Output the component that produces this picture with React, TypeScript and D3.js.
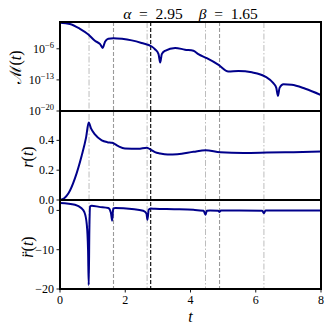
import React, { useEffect, useRef } from "react";
import * as d3 from "d3";

// M(t), log scale
const tM = [0, 0.3, 0.6, 0.87, 1.07, 1.23, 1.31, 1.38, 1.48, 1.64, 1.9, 2.2, 2.5, 2.81, 2.91, 3.02, 3.07, 3.12, 3.22, 3.53, 3.83, 4.09, 4.24, 4.5, 4.86, 5.16, 5.47, 5.88, 6.29, 6.54, 6.63, 6.68, 6.73, 6.85, 7.1, 7.52, 8.0];
const mValues = [0.71, 0.38, 0.035, 1.6e-3, 6.3e-5, 1.1e-5, 1.6e-6, 4.0e-5, 1.8e-4, 2.5e-4, 1.8e-4, 7.9e-5, 2.0e-5, 3.2e-6, 7.9e-7, 6.3e-8, 7.9e-10, 6.3e-8, 3.5e-7, 1.6e-6, 6.3e-7, 3.5e-7, 6.3e-8, 7.9e-9, 2.5e-10, 7.9e-12, 1.0e-11, 5.0e-12, 5.6e-13, 1.8e-14, 1.6e-15, 2.5e-17, 1.6e-15, 1.0e-14, 7.9e-15, 1.0e-15, 4.0e-17];

// r(t)
const tR = [0, 0.13, 0.26, 0.46, 0.66, 0.8, 0.88, 0.95, 1.07, 1.28, 1.45, 1.6, 1.79, 1.99, 2.4, 2.66, 2.8, 2.91, 3.07, 3.3, 3.6, 4.09, 4.46, 4.91, 5.62, 6.34, 7.16, 8.0];
const rValues = [0, 0.012, 0.045, 0.147, 0.294, 0.42, 0.52, 0.48, 0.44, 0.4, 0.388, 0.384, 0.361, 0.346, 0.343, 0.35, 0.335, 0.321, 0.312, 0.305, 0.307, 0.323, 0.334, 0.321, 0.316, 0.318, 0.321, 0.325];

// r''(t)
const tRdd = [0, 0.46, 0.65, 0.75, 0.82, 0.86, 0.88, 0.9, 0.92, 0.97, 1.2, 1.48, 1.56, 1.6, 1.63, 1.7, 2.2, 2.55, 2.65, 2.68, 2.72, 2.78, 2.91, 3.5, 4.09, 4.4, 4.46, 4.5, 4.6, 4.85, 4.89, 4.93, 5.5, 6.2, 6.25, 6.3, 7.0, 8.0];
const rddValues = [1.9, 1.45, 0.6, -0.5, -3.5, -10, -19, -5, 1.0, 1.2, 0.9, 0.6, -0.6, -2.6, 0.5, 0.6, 0.35, -0.1, -0.8, -2.4, 0.2, 0.5, 0.4, 0.3, 0.15, -0.1, -1.1, -0.1, 0.0, -0.1, -0.4, -0.05, 0.0, -0.1, -0.7, -0.05, 0.0, 0.0];

const xTicks = [0, 2, 4, 6, 8];
const mTicks = [1e-20, 1e-13, 1e-6];
const mTickExp = ["\u221220", "\u221213", "\u22126"];
const rTicks = [0, 0.2, 0.4];
const rddTicks = [-20, -10, 0];

const dashDotLines = [0.89, 2.67, 4.46, 6.25];
const dashedLines = [1.64, 4.89];
const blackLines = [2.78];

const alphaText = "2.95";
const betaText = "1.65";

const serif = "'Liberation Serif', 'DejaVu Serif', serif";
const navy = "#00008b";

export default function App() {
  const svgRef = useRef<SVGSVGElement>(null);

  useEffect(() => {
    const svg = d3.select(svgRef.current);
    svg.selectAll("*").remove();

    const left = 60, right = 321;
    const tops = [22, 111, 200];
    const h = 89;

    const x = d3.scaleLinear().domain([0, 8]).range([left, right]);
    const yM = d3.scaleLog().domain([1e-20, Math.pow(10, 0.03)]).range([tops[0] + h, tops[0]]);
    const yR = d3.scaleLinear().domain([0, 0.597]).range([tops[1] + h, tops[1]]);
    const yRdd = d3.scaleLinear().domain([-20, 2.65]).range([tops[2] + h, tops[2]]);

    svg.append("defs").append("clipPath").attr("id", "plotclip")
      .append("rect").attr("x", left).attr("y", tops[0]).attr("width", right - left).attr("height", 3 * h);

    // vertical marker lines through all panels
    const vl = svg.append("g");
    const addLines = (ts: number[], color: string, dash: string, w: number) => {
      vl.selectAll(null).data(ts).enter().append("line")
        .attr("x1", (d) => x(d)).attr("x2", (d) => x(d))
        .attr("y1", tops[0]).attr("y2", tops[2] + h)
        .attr("stroke", color).attr("stroke-width", w)
        .attr("stroke-dasharray", dash);
    };
    addLines(dashDotLines, "#bdbdbd", "6,2,1.5,2", 1);
    addLines(dashedLines, "#9a9a9a", "4,2", 1.1);
    addLines(blackLines, "#000", "4,2", 1.1);

    // curves
    const curves = svg.append("g").attr("clip-path", "url(#plotclip)");
    const drawCurve = (ts: number[], vs: number[], y: (v: number) => number) => {
      const line = d3.line<number>()
        .x((_, i) => x(ts[i]))
        .y((d) => y(d))
        .curve(d3.curveMonotoneX);
      curves.append("path").datum(vs)
        .attr("fill", "none").attr("stroke", navy)
        .attr("stroke-width", 2).attr("stroke-linejoin", "round")
        .attr("d", line);
    };
    drawCurve(tM, mValues, yM);
    drawCurve(tR, rValues, yR);
    drawCurve(tRdd, rddValues, yRdd);

    // spines
    tops.forEach((t) => {
      svg.append("rect").attr("x", left).attr("y", t).attr("width", right - left).attr("height", h)
        .attr("fill", "none").attr("stroke", "#000").attr("stroke-width", 2);
    });

    const tickLen = 3.5;
    const fs = 12;

    // y ticks: M
    const gM = svg.append("g");
    mTicks.forEach((v, i) => {
      const yy = yM(v);
      gM.append("line").attr("x1", left - tickLen).attr("x2", left).attr("y1", yy).attr("y2", yy)
        .attr("stroke", "#000").attr("stroke-width", 0.9);
      const tx = gM.append("text").attr("x", left - tickLen - 2.5).attr("y", yy + 4)
        .attr("text-anchor", "end").attr("font-family", serif).attr("font-size", fs);
      tx.append("tspan").text("10");
      tx.append("tspan").attr("dy", -5).attr("font-size", 8.5).text(mTickExp[i]);
    });

    // y ticks: linear panels
    const linTicks = (ticks: number[], y: d3.ScaleLinear<number, number>, fmt: (v: number) => string) => {
      const g = svg.append("g");
      ticks.forEach((v) => {
        const yy = y(v);
        g.append("line").attr("x1", left - tickLen).attr("x2", left).attr("y1", yy).attr("y2", yy)
          .attr("stroke", "#000").attr("stroke-width", 0.9);
        g.append("text").attr("x", left - tickLen - 2.5).attr("y", yy + 4)
          .attr("text-anchor", "end").attr("font-family", serif).attr("font-size", fs)
          .text(fmt(v));
      });
    };
    linTicks(rTicks, yR, (v) => d3.format(".1f")(v));
    linTicks(rddTicks, yRdd, (v) => d3.format("d")(v).replace("-", "\u2212"));

    // x ticks (bottom panel only)
    const gx = svg.append("g");
    xTicks.forEach((v) => {
      gx.append("line").attr("x1", x(v)).attr("x2", x(v)).attr("y1", tops[2] + h).attr("y2", tops[2] + h + tickLen)
        .attr("stroke", "#000").attr("stroke-width", 0.9);
      gx.append("text").attr("x", x(v)).attr("y", tops[2] + h + tickLen + 11.5)
        .attr("text-anchor", "middle").attr("font-family", serif).attr("font-size", fs)
        .text(String(v));
    });

    // axis labels
    svg.append("text").attr("x", (left + right) / 2).attr("y", 321.5)
      .attr("text-anchor", "middle").attr("font-family", serif).attr("font-style", "italic")
      .attr("font-size", 16).text("t");

    const ylab = (cx: number, cy: number, parts: [string, boolean][]) => {
      const t = svg.append("text").attr("transform", `translate(${cx},${cy}) rotate(-90)`)
        .attr("text-anchor", "middle").attr("font-family", serif).attr("font-size", 16);
      parts.forEach(([s, it]) => t.append("tspan").attr("font-style", it ? "italic" : "normal").text(s));
    };
    ylab(21, 67, [["\u2133", false], ["(", false], ["t", true], [")", false]]);
    ylab(33, 157, [["r", true], ["(", false], ["t", true], [")", false]]);
    ylab(33, 247, [["r\u0308", true], ["(", false], ["t", true], [")", false]]);

    // title
    const titleG = svg.append("text").attr("x", (left + right) / 2).attr("y", 19)
      .attr("text-anchor", "middle").attr("font-family", serif).attr("font-size", 15.5);
    titleG.append("tspan").attr("font-style", "italic").text("\u03b1");
    titleG.append("tspan").text(`\u2002=\u2002${alphaText}`);
    titleG.append("tspan").attr("dx", 16).attr("font-style", "italic").text("\u03b2");
    titleG.append("tspan").text(`\u2002=\u2002${betaText}`);
  }, []);

  return (
    <svg
      ref={svgRef}
      width={332}
      height={332}
      style={{ position: "absolute", left: 0, top: 0, background: "#fff" }}
    />
  );
}
